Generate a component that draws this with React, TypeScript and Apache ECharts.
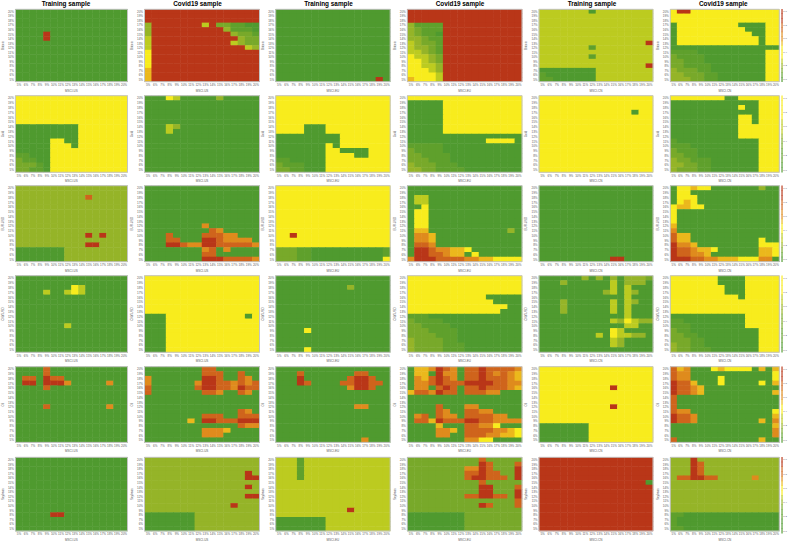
import React, { useEffect, useRef } from "react";
import * as echarts from "echarts";

const pct = ["5%","6%","7%","8%","9%","10%","11%","12%","13%","14%","15%","16%","17%","18%","19%","20%"];
const palette = ["#4f9a2f","#5fa02c","#78a92a","#95b428","#bccb20","#f8ec1d","#ebb81c","#df8b1d","#cf641c","#b93618"];

const G = "0000000000000000";
const Y = "5555555555555555";
const R = "9999999999999999";
const A2 = "2222222222222222";
const A3 = "3333333333333333";
const A4 = "4444444444444444";

// Every panel is read top (20%) to bottom (5%), left (5%) to right (20%); digits are colour levels.
const bitcoinTrainUS = [G,G,G,G,G,"0000900000000000","0000900000000000",G,G,G,G,G,G,G,G,G];
const bitcoinCovidUS = [R,R,R,"3999999949221100","3999999999931110","3999999999993221","4999999999999322","4999999999994322","4999999999999943","5999999999999999","5999999999999999","5999999999999999","5999999999999999","6999999999999999","6999999999999999","6999999999999999"];
const bitcoinTrainEU = [G,G,G,G,G,G,G,G,G,G,G,G,G,G,G,"0000000000000090"];
const bitcoinCovidEU = [R,R,R,"3111199999999999","3211199999999999","3211099999999999","3321199999999999","4322199999999999","4332199999999999","4432199999999999","5443299999999999","5543299999999999","5544399999999999","5554399999999999","5555499999999999","6555499999999999"];
const bitcoinTrainCN = ["4444444044444444",A4,A4,A4,A4,A4,A4,"4444444444444449","4444444144444444",A4,"4444444144444444",A4,"4444444444444449","0000000044444444","1000000044444444","1100000044444444"];
const bitcoinCovidCN = ["5995555555555555",Y,Y,"0555555555000055","0555555555500055","0555555555550055","0555555555555055","0555555555555055",G,"1111000000000055","2111100000000055","2211100000000055","2211110000000055","3222110000000055","3322211000000055","3332211000000055"];

const goldTrainUS = [Y,Y,Y,Y,Y,Y,"0000000005555555","0000000005555555","0000000005555555","0000055005555555","0000055505555555","0000055555555555","1100055555555555","2110055555555555","2221055555555555","2211055555555555"];
const goldCovidUS = ["0005400000300000",G,G,G,G,G,"0004300000000000","0004000000000000",G,G,G,G,G,G,G,G];
const goldTrainEU = [Y,Y,Y,Y,Y,Y,"5555000555555555","5555000555555555","0000000005555555","0000000005555555","0000000505555555","0000000550000555","0000000555500555","1100000555555555","2111000555555555","2211000555555555"];
const goldCovidEU = [Y,"0000055555555555","0000055555555555","0000055555555555","0000055555555555","0000055555555555","0000055555555555","0000055555555555",G,"0000000000055550","1111100000000000","2111100000000000","2211110000000000","2221110000000000","3222111000000000","3322111100000000"];
const goldTrainCN = [Y,Y,Y,"5555555555555055",Y,Y,Y,Y,Y,Y,Y,Y,Y,Y,Y,Y];
const goldCovidCN = ["5555555500555555","0000000000000555","0000000000500555","0000000000000555","0000000000550555","0000000000550555","0000000000555555","0000000000555555","0000000000555555","1000000000000555","1110000000000555","2111000000000555","2211000000000555","3221110000000555","3322110000000555","3222110000000555"];

const eurTrainUS = [A3,A3,"3333333333833333",A3,A3,A3,A3,A3,A3,A3,"3333333333939333",A3,"3333333333993333","0000000333333333","0000000333333333","0000000333333333"];
const eurCovidUS = [G,G,G,G,G,G,G,G,"0000000070000000","0000000008700000","0008000088877000","0008800099877770","0009987799888887","0000000078070000","0000000088000000","0000000099988887"];
const eurTrainEU = [Y,Y,Y,Y,Y,Y,Y,Y,Y,Y,"5595555555555555",Y,Y,"2221100000000001","2221100000000001","2221100000000005"];
const eurCovidEU = [G,G,"0440000000000000","0440000000000000","0050000000000000","0550000000000000","0550000000000000","0550000000000000","0550000000000000","0660000000000030","0776000000000000","0776000000000000","0887000000000000","0998776650000000","0998876605000000","7999888877665555"];
const eurTrainCN = [G,G,G,G,G,G,G,G,G,G,G,G,G,G,G,"0000000000990000"];
const eurCovidCN = ["0556550000000300","0550000000000000","0555000000000000","0565000000000000","5665500000000000","5000000000000000","5000000000000000","5000000000000000","6000000000000000","7000000000000000","8660000000000000","8660000000000500","9776000000000555","9887665000000665","9887760000000665","9998877666555770"];

const cnyTrainUS = [G,G,"0000000054000000","0000400454000000",G,G,G,G,G,G,"0000000400000000",G,G,G,G,G];
const cnyCovidUS = [Y,Y,Y,Y,Y,Y,Y,Y,"0005555555555505","0005555555555555","0005555555555555","0005555555555555","0005555555555555","0005555555555555","0005555555555555","0005555555555555"];
const cnyTrainEU = [G,G,"0000000000300000",G,G,G,G,G,G,G,G,"0000500000000000",G,G,G,"0000500000000000"];
const cnyCovidEU = [Y,Y,Y,Y,"5555555555500000","5555555555550000","5555555555555500","5555555555555000","1110000000000000","2111100000000000","2211110000000000","2221111000000000","2222111000000000","3222211000000000","3222211100000000","3222211100000000"];
const cnyTrainCN = ["0000003030303332","0003000000403330","0000000000404000","0000000003404300","0000000000004000","0003000000404300","0003000000404000","0003000000404000","0000000000004000","0000000000435433","0000000000004400","0000000000540000","0000000040544330","0000000000430000","0000000000430000",G];
const cnyCovidCN = ["5555555000055555","5555555000055555","5555555500055555","5555555500055555","5555555555055555",Y,Y,Y,"0000000000055555","1100000000055555","1110000000055555","2110000000000555","2211000000000555","2221100000000555","3221100000000555","3221110000000555"];

const oilTrainUS = ["0000800000000000","0000800000000000","0880988000000000","0990999700000700","0000800000000000",G,G,G,"0000800000000700",G,G,G,G,G,G,G];
const oilCovidUS = ["0000000088000000","0000000088800800","7000000099800870","7000000799887878","8000000899887988","8000000088700870",G,G,G,"0000000000000870","0000000088800888","0000006099888999","0000000000000877","0000000077760000","0000000077700000",G];
const oilTrainEU = [G,"0008000000088000","0009000000899800","0009800008899880","0000000000799800",G,G,G,"0000000000077000",G,G,G,G,G,G,"0000000000007000"];
const oilCovidEU = ["0667987088988887","0660977088987876","0768987088988876","0778988899998877","0770898088988876","6887988088877000",G,G,"0000800077000000","0000870088770000","0780877088887700","0886988899887777","0000600088775000","0000776088887765","0000770088877665","0000000077550000"];
const oilTrainCN = [Y,Y,Y,Y,"5555555555955555",Y,Y,Y,"5555555555955555",Y,Y,Y,"0000000555555555","0000000555555555","0000000555555555","0000000555555555"];
const oilCovidCN = ["8670005655550606","8770000000000005","8770000500000005","9886000500000506","9887600000000000","9887600000000006","8000000000000000","8000000000000000","8000000000000000","8770000000000005","9887000000000006","9887000000000607","0000000000000006","0000000000000007","0000000000000007","8000000000000600"];

const soyTrainUS = [G,G,G,G,G,G,G,G,G,G,G,G,"0000099000000000",G,G,G];
const soyCovidUS = [A3,A3,A3,"3333333333333393","3333333333333399",A3,"3333333333333393",A3,"3333333333333399",A3,"3333333333339333",A3,"0000000333333333","0000000333333333","0000000333333333","0000000333333333"];
const soyTrainEU = ["4441444444444444","4441444444444444","4441444444444444","4441444444444444","4441444444444444",A4,A4,A4,A4,A4,A4,"4444444444944444",A4,"0000000444444444","0000000444444444","0000000444444444"];
const soyCovidEU = ["2222222222822222","2222222222982228","2222222277982229","2222222288988229","2222222289988829","2222222222822222","2222222222992228","2222222222992229","2222222288998829","2222222222222228","2222222222982228",A2,"0000000022222222","0000000022222222","0000000022222222","0000000022222222"];
const soyTrainCN = [R,R,R,R,R,"9999999999999990",R,R,R,R,R,R,R,R,R,R];
const soyCovidCN = ["3339333333333333","3339833333333333","3339833333333333","3339833333333333","3889988333337333",A3,A3,A3,A3,A3,A3,A3,"1100000000000000","1000000000000000","1000000000000000","1100000000000000"];

const panels = [
  [bitcoinTrainUS, bitcoinCovidUS, bitcoinTrainEU, bitcoinCovidEU, bitcoinTrainCN, bitcoinCovidCN],
  [goldTrainUS, goldCovidUS, goldTrainEU, goldCovidEU, goldTrainCN, goldCovidCN],
  [eurTrainUS, eurCovidUS, eurTrainEU, eurCovidEU, eurTrainCN, eurCovidCN],
  [cnyTrainUS, cnyCovidUS, cnyTrainEU, cnyCovidEU, cnyTrainCN, cnyCovidCN],
  [oilTrainUS, oilCovidUS, oilTrainEU, oilCovidEU, oilTrainCN, oilCovidCN],
  [soyTrainUS, soyCovidUS, soyTrainEU, soyCovidEU, soyTrainCN, soyCovidCN],
];

const rowNames = ["Bitcoin", "Gold", "EUR-USD", "CNY-USD", "Oil", "Soybean"];
const colNames = ["MSCI-US", "MSCI-US", "MSCI-EU", "MSCI-EU", "MSCI-CN", "MSCI-CN"];
const titles = ["Training sample", "Covid19 sample", "Training sample", "Covid19 sample", "Training sample", "Covid19 sample"];
const titleCenters = [66, 197.5, 328.5, 460, 592, 723.3];

const colLefts = [13.5, 144.5, 275.7, 407.3, 539, 670.3];
const colWidths = [114, 115, 114.5, 114.7, 114, 109];
const rowTops = [9.3, 95.7, 185.7, 275.7, 366.7, 457.3];
const rowHeights = [72.4, 76.6, 76, 76.6, 75.7, 76];

// Colour bars, top to bottom
const barLevels = [
  "9998877655543210",
  "5555544432211100",
  "9998877655443210",
  "5555443322211100",
  "9998877655443210",
  "9988765543211000",
];
const barTicks = ["0.0","","","0.2","","","0.4","","","0.6","","","0.8","","","1.0"];

const FONT = "Liberation Sans";
const FRAME = "#c4c4c4";
const TEXT = "#5a5a5a";

function buildOption() {
  const grid: any[] = [];
  const xAxis: any[] = [];
  const yAxis: any[] = [];
  const series: any[] = [];
  const label = { fontSize: 3, color: TEXT, fontFamily: FONT, interval: 0, hideOverlap: false };
  panels.forEach((row, r) => {
    row.forEach((cells, c) => {
      const idx = grid.length;
      grid.push({ z: 5, left: colLefts[c], top: rowTops[r], width: colWidths[c], height: rowHeights[r], show: true, borderColor: FRAME, borderWidth: 1, backgroundColor: "transparent" });
      xAxis.push({
        type: "category", gridIndex: idx, data: pct,
        name: colNames[c], nameLocation: "middle", nameGap: 7,
        nameTextStyle: { fontSize: 3, color: TEXT, fontFamily: FONT },
        axisLine: { show: false }, axisTick: { show: false }, splitLine: { show: false },
        axisLabel: { ...label, margin: 1.5 },
      });
      yAxis.push({
        type: "category", gridIndex: idx, data: pct,
        name: rowNames[r], nameLocation: "middle", nameGap: 10,
        nameTextStyle: { fontSize: 3, color: TEXT, fontFamily: FONT },
        axisLine: { show: false }, axisTick: { show: false }, splitLine: { show: false },
        axisLabel: { ...label, margin: 1.5 },
      });
      const data: number[][] = [];
      cells.forEach((line, i) => {
        for (let j = 0; j < line.length; j++) data.push([j, 15 - i, Number(line[j])]);
      });
      series.push({
        type: "heatmap", xAxisIndex: idx, yAxisIndex: idx, data,
        itemStyle: { borderWidth: 0 }, silent: true, progressive: 0,
      });
    });
  });
  barLevels.forEach((levels, r) => {
    const idx = grid.length;
    grid.push({ left: 781.7, top: rowTops[r], width: 2.6, height: rowHeights[r], show: false });
    xAxis.push({ type: "category", gridIndex: idx, data: [""], show: false });
    yAxis.push({
      type: "category", gridIndex: idx, data: barTicks, position: "right",
      axisLine: { show: false }, axisTick: { show: false }, splitLine: { show: false },
      axisLabel: { fontSize: 2.5, color: TEXT, fontFamily: FONT, interval: 0, margin: 1 },
    });
    series.push({
      type: "heatmap", xAxisIndex: idx, yAxisIndex: idx,
      data: levels.split("").map((v, i) => [0, 15 - i, Number(v)]),
      itemStyle: { borderWidth: 0 }, silent: true, progressive: 0,
    });
  });
  return {
    animation: false,
    backgroundColor: "#ffffff",
    textStyle: { fontFamily: FONT },
    title: titles.map((text, c) => ({
      text, left: titleCenters[c], top: 0, padding: 0, textAlign: "center",
      textStyle: { fontFamily: FONT, fontSize: 6.4, fontWeight: "bold", color: "#000000", lineHeight: 7 },
    })),
    grid, xAxis, yAxis, series,
    visualMap: { show: false, type: "continuous", min: 0, max: 9, inRange: { color: palette } },
  };
}

export default function App() {
  const ref = useRef<HTMLDivElement>(null);
  useEffect(() => {
    document.body.style.margin = "0";
    const chart = echarts.init(ref.current as HTMLDivElement, undefined, { renderer: "svg" });
    chart.setOption(buildOption() as any);
    return () => chart.dispose();
  }, []);
  return <div ref={ref} style={{ position: "absolute", left: 0, top: 0, width: 789, height: 542 }} />;
}
